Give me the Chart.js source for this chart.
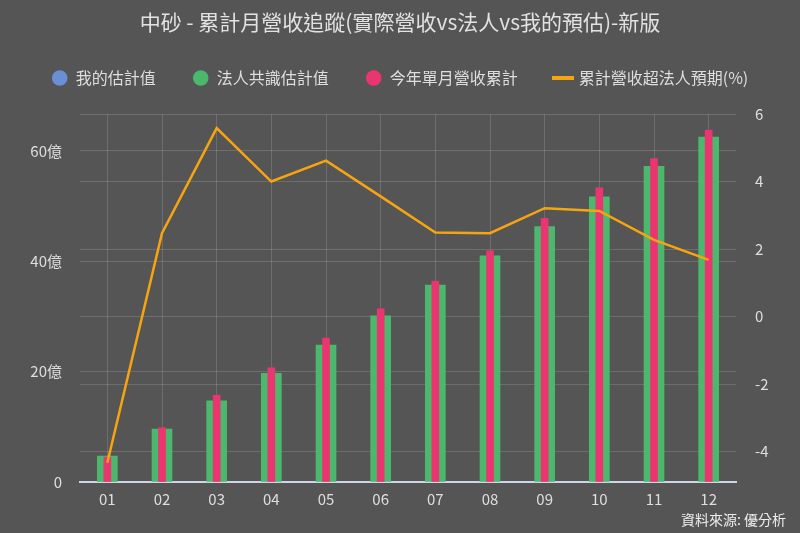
<!DOCTYPE html>
<html lang="zh-Hant">
  <head>
    <meta charset="UTF-8" />
    <title>中砂 累計月營收追蹤</title>
    <script src="https://cdn.jsdelivr.net/npm/chart.js"></script>
    <style>
      html, body {
        margin: 0;
        padding: 0;
        background: #555555;
      }
      .chart-box {
        width: 800px;
        height: 533px;
      }
    </style>
  </head>
  <body>
    <div class="chart-box">
      <canvas id="revChart"></canvas>
    </div>
    <script>
      // data
      const months = ['01', '02', '03', '04', '05', '06', '07', '08', '09', '10', '11', '12'];
      const myEstimate = [null, null, null, null, null, null, null, null, null, null, null, null];
      const analystEstimate = [4.7, 9.6, 14.7, 19.7, 24.8, 30.1, 35.7, 41.0, 46.3, 51.7, 57.2, 62.5];
      const actualCumulative = [4.5, 9.85, 15.7, 20.7, 26.1, 31.4, 36.4, 41.9, 47.8, 53.3, 58.6, 63.8];
      const beatPct = [-4.33, 2.47, 5.58, 4.0, 4.62, 3.56, 2.49, 2.47, 3.21, 3.13, 2.27, 1.68];
      const leftTicks = [0, 20, 40, 60];
      const rightTicks = [-4, -2, 0, 2, 4, 6];

      const txt = '#dedede';
      const gridCol = 'rgba(255,255,255,0.14)';
      Chart.defaults.font.family = "'Noto Sans CJK TC', 'Noto Sans', sans-serif";
      Chart.defaults.color = txt;

      // little orange dash for the line legend item
      const dash = document.createElement('canvas');
      dash.width = 22;
      dash.height = 4;
      const dctx = dash.getContext('2d');
      dctx.fillStyle = '#f6a511';
      dctx.fillRect(0, 0, 22, 4);

      const bgPlugin = {
        id: 'bg',
        beforeDraw(chart) {
          const c = chart.ctx;
          c.save();
          c.fillStyle = '#555555';
          c.fillRect(0, 0, chart.width, chart.height);
          c.restore();
        },
        afterDraw(chart) {
          const c = chart.ctx;
          c.save();
          c.font = "14px 'Noto Sans CJK TC'";
          c.fillStyle = '#eeeeee';
          c.textAlign = 'right';
          c.textBaseline = 'middle';
          c.fillText('資料來源: 優分析', 786, 520);
          c.restore();
        },
        beforeLayout(chart) {
          const lg = chart.legend;
          if (lg && !lg._fixed) {
            const fit = lg.fit;
            lg.fit = function () {
              fit.call(this);
              this.height = 114 - 33;
            };
            lg._fixed = true;
          }
        }
      };

      new Chart(document.getElementById('revChart'), {
        type: 'bar',
        data: {
          labels: months,
          datasets: [
            {
              label: '我的估計值',
              data: myEstimate,
              backgroundColor: '#6b8fd4',
              barThickness: 20,
              grouped: false,
              yAxisID: 'y',
              order: 3
            },
            {
              label: '法人共識估計值',
              data: analystEstimate,
              backgroundColor: '#4cb86e',
              barThickness: 20,
              grouped: false,
              yAxisID: 'y',
              order: 2
            },
            {
              label: '今年單月營收累計',
              data: actualCumulative,
              backgroundColor: '#ea3570',
              barThickness: 7,
              grouped: false,
              yAxisID: 'y',
              order: 1
            },
            {
              type: 'line',
              label: '累計營收超法人預期(%)',
              data: beatPct,
              borderColor: '#f6a511',
              backgroundColor: '#f6a511',
              borderWidth: 2.5,
              pointRadius: 0,
              tension: 0,
              yAxisID: 'y1',
              order: 0
            }
          ]
        },
        options: {
          responsive: true,
          maintainAspectRatio: false,
          animation: false,
          layout: { padding: 0 },
          plugins: {
            title: {
              display: true,
              text: '中砂 - 累計月營收追蹤(實際營收vs法人vs我的預估)-新版',
              color: '#e2e2e2',
              font: { size: 21, weight: 'normal', lineHeight: 1 },
              padding: { top: 12, bottom: 0 }
            },
            legend: {
              display: true,
              labels: {
                color: txt,
                font: { size: 16 },
                usePointStyle: true,
                boxWidth: 22,
                boxHeight: 11,
                padding: 37,
                sort: (a, b) => a.datasetIndex - b.datasetIndex,
                generateLabels(chart) {
                  const items = Chart.defaults.plugins.legend.labels.generateLabels(chart);
                  items.forEach((it) => {
                    const ds = chart.data.datasets[it.datasetIndex];
                    it.pointStyle = ds.type === 'line' ? dash : 'circle';
                    it.lineWidth = 0;
                    it.strokeStyle = 'rgba(0,0,0,0)';
                  });
                  return items;
                }
              }
            },
            tooltip: { enabled: false }
          },
          scales: {
            x: {
              grid: { color: gridCol, offset: false, drawTicks: false },
              border: { color: '#cdd5e6', width: 2 },
              ticks: { font: { size: 15 }, padding: 8, color: txt },
              afterFit(s) { s.height = 51; }
            },
            y: {
              position: 'left',
              min: 0,
              max: 66.7,
              grid: { color: gridCol, drawTicks: false },
              border: { display: false },
              ticks: {
                stepSize: 20,
                includeBounds: false,
                padding: 18,
                font: { size: 15 },
                color: txt,
                callback: (v) => (leftTicks.includes(v) ? (v === 0 ? '0' : v + '億') : null)
              },
              afterFit(s) { s.width = 80; }
            },
            y1: {
              position: 'right',
              min: -4.9,
              max: 6,
              grid: { color: gridCol, drawTicks: false },
              border: { display: false },
              ticks: {
                stepSize: 2,
                includeBounds: false,
                padding: 19,
                font: { size: 15 },
                color: txt,
                callback: (v) => (rightTicks.includes(v) ? String(v) : null)
              },
              afterFit(s) { s.width = 64; }
            }
          }
        },
        plugins: [bgPlugin]
      });
    </script>
  </body>
</html>
